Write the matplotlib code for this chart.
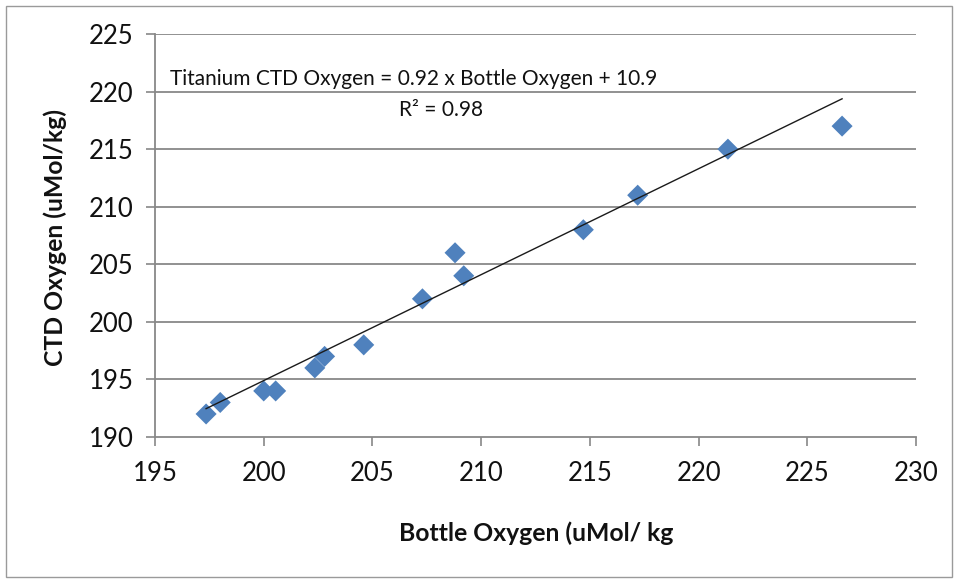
import matplotlib
matplotlib.use("Agg")
import matplotlib.pyplot as plt
from matplotlib.patches import Rectangle
import numpy as np

plt.rcParams['font.family'] = ['Lato', 'DejaVu Sans']

# Bottle vs CTD oxygen samples (uMol/kg)
bottle_oxygen = [197.35, 198.0, 200.0, 200.55, 202.35, 202.8, 204.6, 207.3,
                 208.8, 209.2, 214.7, 217.2, 221.35, 226.6]
ctd_oxygen = [192, 193, 194, 194, 196, 197, 198, 202, 206, 204, 208, 211, 215, 217]

# Linear fit reported on the chart
slope = 0.92
intercept = 10.9
r_squared = 0.98

x_ticks = [195, 200, 205, 210, 215, 220, 225, 230]
y_ticks = [190, 195, 200, 205, 210, 215, 220, 225]

grid_gray = '#888888'
marker_blue = '#4F81BD'

fig = plt.figure(figsize=(9.58, 5.81), dpi=100)
fig.patch.set_facecolor('white')

# outer chart border
fig.patches.append(Rectangle((6 / 958, 4 / 581), 946 / 958, 571 / 581,
                             transform=fig.transFigure, fill=False,
                             edgecolor='#9a9a9a', linewidth=1.0))

ax = fig.add_axes([155 / 958, 1 - 437 / 581, 761 / 958, 403 / 581])

ax.set_xlim(x_ticks[0], x_ticks[-1])
ax.set_ylim(y_ticks[0], y_ticks[-1])
ax.set_xticks(x_ticks)
ax.set_yticks(y_ticks)

for yv in y_ticks[1:]:
    ax.axhline(yv, color=grid_gray, linewidth=1.3, zorder=1)

for side in ('top', 'right'):
    ax.spines[side].set_visible(False)
for side in ('left', 'bottom'):
    ax.spines[side].set_color(grid_gray)
    ax.spines[side].set_linewidth(1.3)

ax.tick_params(axis='both', direction='out', length=6.5, width=1.2,
               color=grid_gray, labelsize=18.5, labelcolor='#111111')
ax.tick_params(axis='x', pad=11)
ax.tick_params(axis='y', pad=9)

ax.scatter(bottle_oxygen, ctd_oxygen, marker='D', s=115, color=marker_blue,
           edgecolors='none', zorder=3, clip_on=False)

fit_x = np.array([min(bottle_oxygen), max(bottle_oxygen)])
ax.plot(fit_x, slope * fit_x + intercept, color='#1a1a1a', linewidth=1.0, zorder=4)

fig.text(170 / 958, 1 - 79 / 581,
         f"Titanium CTD Oxygen = {slope:.2f} x Bottle Oxygen + {intercept}",
         fontsize=15, color='#111111', va='center', ha='left')
fig.text(441 / 958, 1 - 110 / 581, f"R\u00b2 = {r_squared:.2f}",
         fontsize=15, color='#111111', va='center', ha='center')

fig.text(536 / 958, 1 - 533 / 581, "Bottle Oxygen (uMol/ kg",
         fontsize=17.8, fontweight='bold', color='#111111', ha='center', va='center')
fig.text(55 / 958, 1 - 237 / 581, "CTD Oxygen (uMol/kg)",
         fontsize=17.8, fontweight='bold', color='#111111', ha='center', va='center',
         rotation=90)

fig.savefig('out.png', dpi=100, facecolor='white')
